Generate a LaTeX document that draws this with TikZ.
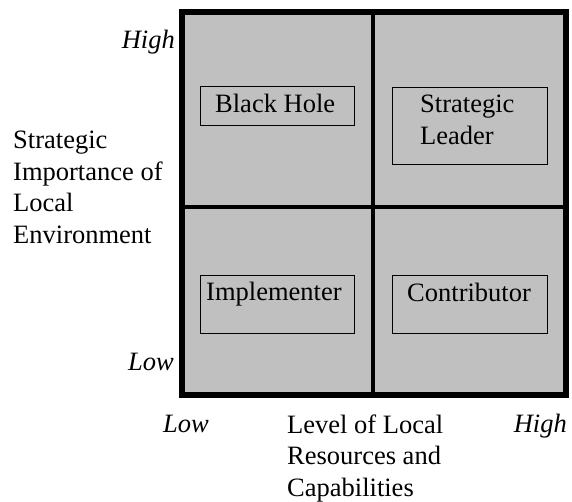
\documentclass[tikz,border=0pt]{standalone}
\usepackage{fontspec}
\setmainfont{Liberation Serif}
\definecolor{quadgray}{HTML}{C0C0C0}
\begin{document}
\begin{tikzpicture}[x=1pt,y=-1pt,
  lbl/.style={inner sep=0pt, font=\fontsize{26.5}{31.5}\selectfont, align=left},
  ilbl/.style={inner sep=0pt, font=\fontsize{26.5}{31.5}\selectfont\itshape},
  cellbox/.style={draw=black, line width=1.3pt, inner sep=0pt, anchor=north west},
  thick line/.style={line width=5.5pt},
  divider/.style={line width=4.5pt}]
\useasboundingbox (0,0) rectangle (572,501);
% outer square
\coordinate (tl) at (182,12);
\coordinate (br) at (566,395);
\fill[quadgray] (tl) rectangle (br);
% dividers
\coordinate (vtop) at (373,12);
\coordinate (vbot) at (373,395);
\coordinate (hl) at (182,207);
\coordinate (hr) at (566,207);
\draw[divider] (vtop) -- (vbot);
\draw[divider] (hl) -- (hr);
\draw[thick line] (tl) rectangle (br);
% quadrant boxes
\node[cellbox, minimum width=154pt, minimum height=39pt] (bh) at (200,86) {};
\node[cellbox, minimum width=155pt, minimum height=77pt] (sl) at (392,87) {};
\node[cellbox, minimum width=154pt, minimum height=58pt] (im) at (200,275) {};
\node[cellbox, minimum width=155pt, minimum height=58pt] (co) at (392,275) {};
\node[lbl, anchor=base west] (bht) at (215,112) {Black Hole};
\node[lbl, anchor=base west] (slt) at (420,144) {Strategic\\Leader};
\node[lbl, anchor=base west] (imt) at (206,300) {Implementer};
\node[lbl, anchor=base west] (cot) at (407,301) {Contributor};
% axis labels
\node[ilbl, anchor=base east] (yhigh) at (175,48) {High};
\node[ilbl, anchor=base east] (ylow) at (174,370) {Low};
\node[ilbl, anchor=base west] (xlow) at (163,432) {Low};
\node[ilbl, anchor=base east] (xhigh) at (567,432) {High};
\node[lbl, anchor=base west] (ytitle) at (13,243) {Strategic\\Importance of\\Local\\Environment};
\node[lbl, anchor=base west] (xtitle) at (287,496) {Level of Local\\Resources and\\Capabilities};
\end{tikzpicture}
\end{document}
